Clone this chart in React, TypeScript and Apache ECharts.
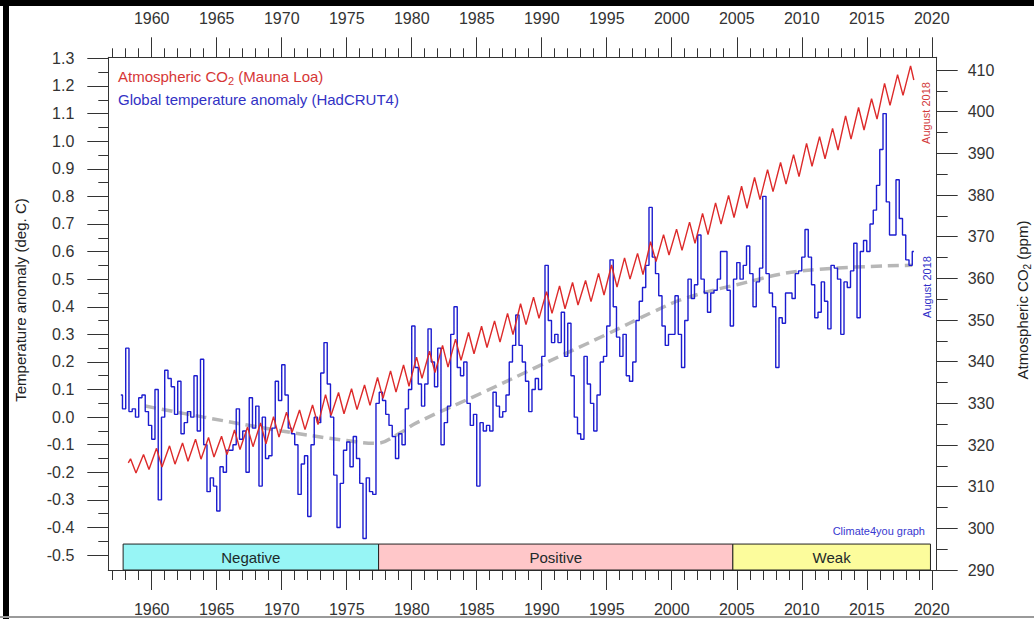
import React, { useEffect, useRef } from 'react';
import * as echarts from 'echarts';

// ---------- axes extents & ticks ----------
const X_MIN = 1956.66;
const X_MAX = 2020.38;
const T_MIN = -0.554;
const T_MAX = 1.304;
const C_MIN = 290;
const C_MAX = 413.05;

const majorYears = [1960, 1965, 1970, 1975, 1980, 1985, 1990, 1995, 2000, 2005, 2010, 2015, 2020];
const minorYears = [
  1957, 1958, 1959, 1960, 1961, 1962, 1963, 1964, 1965, 1966, 1967, 1968, 1969, 1970, 1971, 1972,
  1973, 1974, 1975, 1976, 1977, 1978, 1979, 1980, 1981, 1982, 1983, 1984, 1985, 1986, 1987, 1988,
  1989, 1990, 1991, 1992, 1993, 1994, 1995, 1996, 1997, 1998, 1999, 2000, 2001, 2002, 2003, 2004,
  2005, 2006, 2007, 2008, 2009, 2010, 2011, 2012, 2013, 2014, 2015, 2016, 2017, 2018, 2019, 2020,
];
const tempMajorTicks = [-0.5, -0.4, -0.3, -0.2, -0.1, 0, 0.1, 0.2, 0.3, 0.4, 0.5, 0.6, 0.7, 0.8, 0.9, 1.0, 1.1, 1.2, 1.3];
const tempMinorTicks = [-0.45, -0.35, -0.25, -0.15, -0.05, 0.05, 0.15, 0.25, 0.35, 0.45, 0.55, 0.65, 0.75, 0.85, 0.95, 1.05, 1.15, 1.25];
const co2MajorTicks = [290, 300, 310, 320, 330, 340, 350, 360, 370, 380, 390, 400, 410];
const co2MinorTicks = [295, 305, 315, 325, 335, 345, 355, 365, 375, 385, 395, 405];

// ---------- CO2 (Mauna Loa): yearly May maxima and Oct minima ----------
const co2FirstYear = 1958;
const co2Start = [1958.2, 315.7];
const co2End = [2018.62, 407.6];
const co2Peaks = [
  316.7, 317.7, 319.2, 319.8, 320.5, 321.4, 321.8, 322.1, 323.6, 324.3,
  325.3, 326.8, 327.9, 328.4, 329.6, 332.1, 332.6, 333.5, 334.4, 336.2,
  337.8, 339.2, 341.1, 342.5, 343.9, 345.4, 347.0, 348.5, 349.8, 351.6,
  353.9, 355.5, 356.8, 358.2, 359.0, 359.5, 361.2, 363.2, 364.9, 366.0,
  368.8, 370.5, 371.8, 373.5, 375.6, 378.1, 379.9, 382.1, 384.2, 386.1,
  387.8, 389.7, 392.4, 394.0, 396.0, 399.0, 401.0, 403.1, 406.8, 408.9,
  411.0,
];
const co2Troughs = [
  313.3, 314.1, 314.7, 315.4, 316.1, 316.6, 317.1, 317.7, 318.9, 319.6,
  320.3, 321.9, 323.0, 323.7, 324.9, 327.1, 327.5, 328.5, 329.5, 331.2,
  332.7, 334.1, 336.0, 337.4, 338.7, 340.3, 341.9, 343.4, 344.7, 346.5,
  348.9, 350.4, 351.6, 352.7, 353.6, 354.4, 356.0, 357.9, 359.8, 360.9,
  364.0, 365.6, 366.7, 368.4, 370.5, 373.0, 374.6, 376.8, 378.9, 380.8,
  382.6, 384.4, 386.9, 388.7, 390.8, 393.4, 395.6, 398.2, 401.5, 403.9,
];

// ---------- HadCRUT4 temperature anomaly, quarterly, from 1957 Q3 ----------
const tempStart = 1957.625;
const tempStep = 0.25;
const temp1950s = [0.08, 0.03, 0.25, 0.02, 0.03, 0.0, 0.07, 0.08, 0.02, -0.03];
const temp1960s = [
  -0.08, 0.1, -0.3, 0.0, 0.17, 0.14, 0.11, 0.01, 0.13, -0.06, -0.02, 0.02, 0.0, 0.15, -0.05, 0.21,
  -0.1, -0.27, -0.22, -0.25, -0.34, -0.18, -0.2, -0.12, -0.12, -0.1, 0.03, -0.08, -0.05, -0.2, 0.07, -0.04,
  0.04, -0.25, 0.0, -0.15, -0.14, -0.04, 0.13, 0.06,
];
const temp1970s = [
  0.19, 0.08, -0.04, -0.06, -0.1, -0.28, -0.17, -0.14, -0.36, -0.1, 0.0, -0.02, 0.16, 0.27, 0.12, 0.0,
  -0.21, -0.4, -0.24, -0.12, -0.09, -0.18, -0.07, -0.15, -0.24, -0.44, -0.22, -0.27, -0.28, 0.05, 0.09, 0.06,
  0.01, -0.03, -0.07, -0.15, -0.06, -0.1, 0.03, 0.1,
];
const temp1980s = [
  0.33, 0.18, 0.12, 0.04, 0.12, 0.32, 0.2, 0.11, 0.25, -0.1, -0.02, 0.04, 0.3, 0.4, 0.18, 0.15,
  0.2, 0.05, -0.03, 0.01, -0.25, -0.02, -0.05, -0.03, -0.05, 0.09, 0.04, 0.0, 0.02, 0.08, 0.2, 0.26,
  0.37, 0.26, 0.2, 0.13, 0.02, 0.1, 0.14, 0.1,
];
const temp1990s = [
  0.22, 0.55, 0.35, 0.27, 0.3, 0.27, 0.38, 0.22, 0.34, 0.15, 0.0, -0.06, -0.08, 0.22, 0.12, 0.05,
  -0.05, 0.08, 0.2, 0.22, 0.33, 0.57, 0.4, 0.29, 0.22, 0.3, 0.15, 0.13, 0.2, 0.35, 0.42, 0.47,
  0.55, 0.76, 0.58, 0.52, 0.44, 0.33, 0.26, 0.3,
];
const temp2000s = [
  0.3, 0.44, 0.3, 0.18, 0.35, 0.5, 0.43, 0.48, 0.66, 0.5, 0.45, 0.38, 0.45, 0.46, 0.5, 0.6,
  0.6, 0.46, 0.33, 0.5, 0.56, 0.5, 0.55, 0.62, 0.52, 0.4, 0.49, 0.54, 0.8, 0.52, 0.45, 0.4,
  0.18, 0.36, 0.34, 0.45, 0.45, 0.43, 0.52, 0.53,
];
const temp2010s = [
  0.58, 0.68, 0.58, 0.48, 0.36, 0.38, 0.49, 0.42, 0.32, 0.55, 0.54, 0.5, 0.3, 0.49, 0.47, 0.53,
  0.63, 0.36, 0.6, 0.64, 0.6, 0.7, 0.75, 0.84, 0.97, 1.1, 0.78, 0.66, 0.66, 0.86, 0.72, 0.66,
  0.57, 0.55, 0.6,
];

// ---------- smoothed trend (grey dashed) ----------
const trendYears = [1959.5, 1964, 1970, 1975, 1977.3, 1979, 1980.4, 1985.5, 1990, 1995, 1998.5, 2001, 2005, 2010, 2018.5];
const trendValues = [0.04, 0.0, -0.05, -0.085, -0.095, -0.06, -0.02, 0.09, 0.19, 0.3, 0.38, 0.43, 0.48, 0.53, 0.55];

// ---------- PDO phase bands ----------
const bandNames = ['Negative', 'Positive', 'Weak'];
const bandStarts = [1957.8, 1977.45, 2004.7];
const bandEnds = [1977.45, 2004.7, 2019.9];
const bandColors = ['#97f5f5', '#ffc7c9', '#fcfc9c'];
const bandTop = -0.46;

const FONT = '"Liberation Sans", Arial, Helvetica, sans-serif';
const AX = '#333333';

function buildOption() {
  const co2Data: number[][] = [co2Start];
  co2Peaks.forEach((p, i) => {
    const y = co2FirstYear + i;
    co2Data.push([y + 0.37, p]);
    if (i < co2Troughs.length) co2Data.push([y + 0.79, co2Troughs[i]]);
  });
  co2Data.push(co2End);

  const tempAll = [...temp1950s, ...temp1960s, ...temp1970s, ...temp1980s, ...temp1990s, ...temp2000s, ...temp2010s];
  const tempData = tempAll.map((v, i) => [tempStart + i * tempStep, v]);
  const trendData = trendYears.map((y, i) => [y, trendValues[i]]);

  const labelStyle = { fontSize: 16, color: AX, fontFamily: FONT };

  const xBase = (extra: any) => ({
    type: 'value',
    min: X_MIN,
    max: X_MAX,
    splitLine: { show: false },
    ...extra,
  });

  const xAxis = [
    xBase({
      position: 'bottom',
      axisLine: { show: true, onZero: false, lineStyle: { color: AX, width: 1 } },
      axisTick: { show: true, customValues: majorYears, length: 20, lineStyle: { color: AX } },
      axisLabel: { show: true, customValues: majorYears, margin: 31, formatter: (v: number) => String(v), ...labelStyle },
    }),
    xBase({
      position: 'top',
      axisLine: { show: true, onZero: false, lineStyle: { color: AX, width: 1 } },
      axisTick: { show: true, customValues: majorYears, length: 20, lineStyle: { color: AX } },
      axisLabel: { show: true, customValues: majorYears, margin: 31, formatter: (v: number) => String(v), ...labelStyle },
    }),
    xBase({
      position: 'bottom',
      axisLine: { show: false, onZero: false },
      axisTick: { show: true, customValues: minorYears, length: 10, lineStyle: { color: AX } },
      axisLabel: { show: false },
    }),
    xBase({
      position: 'top',
      axisLine: { show: false, onZero: false },
      axisTick: { show: true, customValues: minorYears, length: 9, lineStyle: { color: AX } },
      axisLabel: { show: false },
    }),
  ];

  const yAxis = [
    {
      type: 'value', position: 'left', min: T_MIN, max: T_MAX, splitLine: { show: false },
      axisLine: { show: true, onZero: false, lineStyle: { color: AX, width: 1 } },
      axisTick: { show: true, customValues: tempMajorTicks, length: 21, lineStyle: { color: AX } },
      axisLabel: { show: true, customValues: tempMajorTicks, margin: 34, formatter: (v: number) => v.toFixed(1), ...labelStyle },
    },
    {
      type: 'value', position: 'right', min: C_MIN, max: C_MAX, splitLine: { show: false },
      axisLine: { show: true, onZero: false, lineStyle: { color: AX, width: 1 } },
      axisTick: { show: true, customValues: co2MajorTicks, length: 21, lineStyle: { color: AX } },
      axisLabel: { show: true, customValues: co2MajorTicks, margin: 31, formatter: (v: number) => String(v), ...labelStyle },
    },
    {
      type: 'value', position: 'left', min: T_MIN, max: T_MAX, splitLine: { show: false },
      axisLine: { show: false, onZero: false },
      axisTick: { show: true, customValues: tempMinorTicks, length: 10, lineStyle: { color: AX } },
      axisLabel: { show: false },
    },
    {
      type: 'value', position: 'right', min: C_MIN, max: C_MAX, splitLine: { show: false },
      axisLine: { show: false, onZero: false },
      axisTick: { show: true, customValues: co2MinorTicks, length: 11, lineStyle: { color: AX } },
      axisLabel: { show: false },
    },
  ];

  const bandData = bandNames.map((name, i) => [
    { name, xAxis: bandStarts[i], yAxis: T_MIN, itemStyle: { color: bandColors[i] } },
    { xAxis: bandEnds[i], yAxis: bandTop },
  ]);

  const series = [
    {
      name: 'trend',
      type: 'line',
      xAxisIndex: 0,
      yAxisIndex: 0,
      data: trendData,
      smooth: 0.4,
      symbol: 'none',
      silent: true,
      lineStyle: { color: '#b7b7b7', width: 3.5, type: [11, 6] },
      z: 2,
      markArea: {
        silent: true,
        itemStyle: { borderColor: '#222', borderWidth: 1 },
        label: { show: true, position: 'inside', color: '#1d2a2a', fontSize: 15, fontFamily: FONT },
        data: bandData,
      },
    },
    {
      name: 'HadCRUT4',
      type: 'line',
      xAxisIndex: 0,
      yAxisIndex: 0,
      data: tempData,
      step: 'middle',
      symbol: 'none',
      lineStyle: { color: '#1c1ccf', width: 1.4 },
      z: 3,
    },
    {
      name: 'CO2',
      type: 'line',
      xAxisIndex: 0,
      yAxisIndex: 1,
      data: co2Data,
      symbol: 'none',
      lineStyle: { color: '#dd2a2a', width: 1.4 },
      z: 4,
    },
  ];

  const graphic = [
    { type: 'rect', shape: { x: 0, y: 0, width: 1034, height: 6 }, style: { fill: '#000' }, z: 100 },
    { type: 'rect', shape: { x: 3, y: 0, width: 6, height: 619 }, style: { fill: '#000' }, z: 100 },
    { type: 'rect', shape: { x: 0, y: 616, width: 1034, height: 2 }, style: { fill: '#9a9a9a' }, z: 100 },
    {
      type: 'text', x: 118, y: 76, z: 50,
      style: {
        text: 'Atmospheric CO{s|2} (Mauna Loa)',
        fill: '#d63636', fontSize: 15, fontFamily: FONT, lineHeight: 20,
        align: 'left', verticalAlign: 'middle',
        rich: { s: { fill: '#d63636', fontSize: 11, lineHeight: 11, verticalAlign: 'bottom', fontFamily: FONT } },
      },
    },
    {
      type: 'text', x: 118, y: 99, z: 50,
      style: {
        text: 'Global temperature anomaly (HadCRUT4)',
        fill: '#3232c4', fontSize: 15, fontFamily: FONT, align: 'left', verticalAlign: 'middle',
      },
    },
    {
      type: 'text', x: 926, y: 113, rotation: Math.PI / 2, z: 50,
      style: { text: 'August 2018', fill: '#d23a3a', fontSize: 11, fontFamily: FONT, align: 'center', verticalAlign: 'middle' },
    },
    {
      type: 'text', x: 927, y: 287, rotation: Math.PI / 2, z: 50,
      style: { text: 'August 2018', fill: '#2f2fc8', fontSize: 11, fontFamily: FONT, align: 'center', verticalAlign: 'middle' },
    },
    {
      type: 'text', x: 925, y: 531, z: 50,
      style: { text: 'Climate4you graph', fill: '#3838d0', fontSize: 11, fontFamily: FONT, align: 'right', verticalAlign: 'middle' },
    },
    {
      type: 'text', x: 20, y: 300, rotation: Math.PI / 2, z: 50,
      style: { text: 'Temperature anomaly (deg. C)', fill: '#222', fontSize: 15, fontFamily: FONT, align: 'center', verticalAlign: 'middle' },
    },
    {
      type: 'text', x: 1022, y: 300, rotation: Math.PI / 2, z: 50,
      style: {
        text: 'Atmospheric CO{s|2} (ppm)',
        fill: '#222', fontSize: 15, fontFamily: FONT, lineHeight: 20,
        align: 'center', verticalAlign: 'middle',
        rich: { s: { fill: '#222', fontSize: 10, lineHeight: 10, verticalAlign: 'bottom', fontFamily: FONT } },
      },
    },
  ];

  return {
    animation: false,
    backgroundColor: '#ffffff',
    grid: { left: 108.3, right: 97.3, top: 57.3, bottom: 49 },
    xAxis,
    yAxis,
    series,
    graphic,
  };
}

export default function App() {
  const ref = useRef<HTMLDivElement>(null);
  useEffect(() => {
    if (!ref.current) return;
    const chart = echarts.init(ref.current, null, { renderer: 'svg' });
    chart.setOption(buildOption() as any);
    return () => chart.dispose();
  }, []);
  return (
    <div
      ref={ref}
      style={{ position: 'fixed', left: 0, top: 0, width: 1034, height: 619, background: '#fff' }}
    />
  );
}
